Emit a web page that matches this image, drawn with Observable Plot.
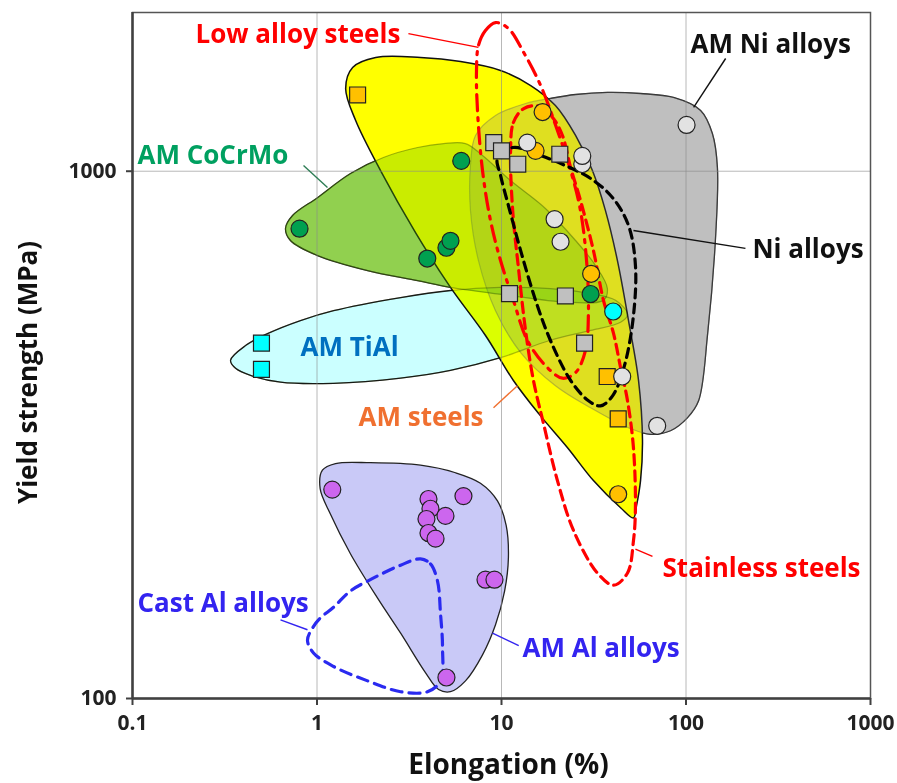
<!DOCTYPE html>
<html><head><meta charset="utf-8">
<script src="https://cdn.jsdelivr.net/npm/d3@7"></script>
<script src="https://cdn.jsdelivr.net/npm/@observablehq/plot@0.6"></script>
<style>
body{margin:0;background:#fff;}
#chart svg{font-family:"Open Sans",Lato,sans-serif;}
#chart svg g[aria-label$="tick label"]{font-weight:700;font-size:21px;fill:#222;}
</style></head><body><div id="chart"></div>
<script>
// ---- axis ticks ----
const xTicks = [0.1, 1, 10, 100, 1000];
const yTicks = [100, 1000];
const xGrid = [1, 10, 100];
const yGrid = [1000];

// ---- envelopes (elongation %, yield strength MPa) ----
const amSteelsX = [1.43,1.56,2.08,3.64,6.0,9.88,14.4,19.6,25.2,31.1,36.6,42.5,48.8,55.3,58.1,56.7,53.9,51.9,44.2,31.5,22.8,15.9,11.6,8.19,5.29,3.42,2.21,1.62];
const amSteelsY = [1435,1573,1643,1643,1614,1553,1454,1332,1169,1003,842,677,521,401,309,259,232,220,230,259,299,347,401,488,602,765,1003,1248];
const amNiX = [6.79,7.23,9.28,13.5,18.4,25.2,37.5,56.7,85.6,120,139,148,145,131,117,102,82.4,64.2,50.0,30.4,19.6,12.7,9.28,7.50,6.79];
const amNiY = [1025,1169,1275,1344,1374,1398,1411,1404,1380,1304,1179,1016,762,492,367,341,322,317,325,356,392,453,544,677,842];
const cocrmoX = [0.675,0.737,1.006,1.52,2.29,3.51,4.85,6.38,7.89,11.2,17.3,25.2,32.3,37.5,35.7,23.7,11.2,5.29,3.51,1.88,1.006,0.718];
const cocrmoY = [779,824,891,990,1062,1109,1128,1128,1071,960,850,739,663,599,569,564,581,602,620,648,692,739];
const tialX = [0.34,0.41,0.539,0.814,1.23,2.84,5.29,9.88,18.4,30.4,41.5,48.2,44.2,30.4,18.4,9.88,5.29,2.84,1.23,0.634,0.436,0.362];
const tialY = [438,467,492,521,544,576,594,602,599,586,569,535,517,499,478,443,419,405,396,398,410,423];
const amAlX = [1.07,1.26,1.95,3.64,5.63,7.69,9.51,10.6,10.9,10.4,9.28,7.89,6.38,5.29,4.56,3.87,2.84,2.13,1.52,1.18,1.04];
const amAlY = [271,279,280,277,268,256,237,213,185,160,138,121,108,103,104,112,133,155,188,224,250];
const castAlX = [3.64,4.12,4.50,4.67,4.79,4.67,3.97,2.84,1.88,1.23,0.957,0.888,0.945,1.04,1.23,1.52,1.88,2.84];
const castAlY = [184,180,167,145,125,108,103,103,108,115,122,129,136,142,149,160,167,179];
const lowAlloyX = [7.50,8.19,9.28,10.9,13.2,16.3,20.1,23.7,26.8,28.9,29.6,28.5,25.2,21.4,17.3,13.8,11.6,9.88,8.72,7.89,7.41,7.32];
const lowAlloyY = [1731,1849,1914,1865,1679,1454,1195,1003,842,677,544,457,415,405,428,478,569,677,806,1003,1304,1553];
const stainlessX = [11.2,11.6,13.2,16.3,19.1,21.4,23.7,26.8,31.5,35.7,40.5,44.2,48.2,51.9,53.2,51.9,48.2,40.5,33.1,24.6,20.1,16.9,14.9,13.5,12.4,11.5];
const stainlessY = [1095,1237,1315,1327,1259,1169,1016,880,707,569,492,424,367,299,230,199,173,164,173,208,259,332,401,499,648,842];
const niAlloysX = [9.51,11.5,16.3,22.2,30.4,40.0,48.8,53.2,51.9,46.4,40.0,34.4,29.6,23.7,18.4,15.3,12.7,10.9,9.88];
const niAlloysY = [1057,1109,1071,1025,969,891,789,663,532,428,375,359,367,401,478,569,707,861,982];

// ---- data points ----
const steelSqX = [1.66,37.4,42.9];
const steelSqY = [1395,408,339];
const steelCircX = [16.7,15.3,30.6,42.9];
const steelCircY = [1295,1093,639,244];
const niCircX = [100.7,13.8,27.4,27.4,19.4,20.9,45.1,69.8];
const niCircY = [1224,1133,1032,1069,811,735,408,329];
const niSqX = [9.08,10.0,12.25,20.7,11.05,22.2,28.2];
const niSqY = [1133,1093,1031,1077,586,580,472];
const cocrCircX = [0.804,3.96,5.03,5.29,6.05,30.4];
const cocrCircY = [778,683,716,738,1046,585];
const tialSqX = [0.5,0.5];
const tialSqY = [472,421];
const tialCircX = [40.3];
const tialCircY = [542];
const alCircX = [1.21,4.02,4.12,3.92,4.97,4.02,4.39,6.22,8.19,9.16,5.03];
const alCircY = [249,239,229,219,222,206,201,242,168,168,109.6];

// ---- labels & leaders ----
const labelText = ["Low alloy steels","AM Ni alloys","AM CoCrMo","Ni alloys","AM TiAl","AM steels","Stainless steels","Cast Al alloys","AM Al alloys"];
const labelX = [0.2196,105.8,0.1064,229,0.814,1.679,74.6,0.1064,13.0];
const labelY = [1754,1679,1034,686,447,329,170,146,120];
const labelColor = ["#ff0000","#111111","#00a060","#111111","#0070c0","#f07030","#ff0000","#3324f0","#3324f0"];
const leaderX1 = [3.13,164,0.845,210,9.05,65.8,0.634,8.94];
const leaderY1 = [1824,1636,1025,714,356,186,141,133];
const leaderX2 = [7.50,110,1.14,51.9,12.2,53.2,0.888,12.4];
const leaderY2 = [1717,1321,931,772,392,192,135,126];
const leaderColor = ["#ff0000","#111111","#2e7d55","#111111","#f07030","#ff0000","#3324f0","#3324f0"];

const pts = (xs, ys) => xs.map((x, i) => ({x, y: ys[i]}));
const labels = labelText.map((t, i) => ({t, x: labelX[i], y: labelY[i], c: labelColor[i]}));
const leaders = leaderX1.map((x1, i) => ({x1, y1: leaderY1[i], x2: leaderX2[i], y2: leaderY2[i], c: leaderColor[i]}));

const closed = "catmull-rom-closed";
const region = (xs, ys, o) => Plot.line(pts(xs, ys), {x: "x", y: "y", curve: closed, ...o});
const font = "'Open Sans', Lato, sans-serif";

const chart = Plot.plot({
  width: 897, height: 783,
  marginLeft: 132, marginRight: 27, marginTop: 12, marginBottom: 85,
  x: {type: "log", domain: [0.1, 1000]},
  y: {type: "log", domain: [100, 2000]},
  style: {fontFamily: font, background: "white", color: "#262626"},
  marks: [
    // base fills
    region(tialX, tialY, {fill: "#edffff", stroke: "#222", strokeWidth: 1.3}),
    region(amAlX, amAlY, {fill: "#c9c9f7", stroke: "#222", strokeWidth: 1.3}),
    region(amNiX, amNiY, {fill: "#d4d4d4", stroke: "#222", strokeWidth: 1.3}),
    region(cocrmoX, cocrmoY, {fill: "#aed772", stroke: "#222", strokeWidth: 1.3}),
    region(amSteelsX, amSteelsY, {fill: "#ffff00", stroke: "#111", strokeWidth: 1.5}),
    // translucent overlays
    region(amNiX, amNiY, {fill: "#808080", fillOpacity: 0.25, stroke: "#555", strokeOpacity: 0.35, strokeWidth: 1.2}),
    region(cocrmoX, cocrmoY, {fill: "#50c000", fillOpacity: 0.3, stroke: "#3c5a00", strokeOpacity: 0.45, strokeWidth: 1.2}),
    region(tialX, tialY, {fill: "#ccffff", fillOpacity: 0.7, mixBlendMode: "multiply", stroke: "#4a5a00", strokeOpacity: 0.4, strokeWidth: 1.2}),
    // grid
    Plot.ruleX(xGrid, {stroke: "#888", strokeOpacity: 0.6, strokeWidth: 1}),
    Plot.ruleY(yGrid, {stroke: "#888", strokeOpacity: 0.6, strokeWidth: 1}),
    // dashed envelopes
    region(castAlX, castAlY, {fill: "none", stroke: "#2a2af0", strokeWidth: 3.2, strokeDasharray: "11,7"}),
    region(lowAlloyX, lowAlloyY, {fill: "none", stroke: "#ff0000", strokeWidth: 3.2, strokeDasharray: "16,7,3,7"}),
    region(stainlessX, stainlessY, {fill: "none", stroke: "#ff0000", strokeWidth: 3.2, strokeDasharray: "10,6"}),
    region(niAlloysX, niAlloysY, {fill: "none", stroke: "#000", strokeWidth: 3.2, strokeDasharray: "9,6"}),
    // markers
    Plot.dot(pts(alCircX, alCircY), {x: "x", y: "y", r: 8.5, fill: "#cc66ee", stroke: "#222", strokeWidth: 1.2}),
    Plot.dot(pts(cocrCircX, cocrCircY), {x: "x", y: "y", r: 8.5, fill: "#00a050", stroke: "#222", strokeWidth: 1.2}),
    Plot.dot(pts(tialSqX, tialSqY), {x: "x", y: "y", r: 9, symbol: "square", fill: "#00ffff", stroke: "#222", strokeWidth: 1.2}),
    Plot.dot(pts(steelSqX, steelSqY), {x: "x", y: "y", r: 9, symbol: "square", fill: "#ffc000", stroke: "#222", strokeWidth: 1.2}),
    Plot.dot(pts(steelCircX, steelCircY), {x: "x", y: "y", r: 8.5, fill: "#ffc000", stroke: "#222", strokeWidth: 1.2}),
    Plot.dot(pts(niSqX, niSqY), {x: "x", y: "y", r: 9, symbol: "square", fill: "#c0c0c0", stroke: "#222", strokeWidth: 1.2}),
    Plot.dot(pts(niCircX, niCircY), {x: "x", y: "y", r: 8.5, fill: "#e2e2e2", stroke: "#222", strokeWidth: 1.2}),
    Plot.dot(pts(tialCircX, tialCircY), {x: "x", y: "y", r: 8.5, fill: "#00ffff", stroke: "#222", strokeWidth: 1.2}),
    // leaders and labels
    Plot.link(leaders, {x1: "x1", y1: "y1", x2: "x2", y2: "y2", stroke: "c", strokeWidth: 1.4}),
    Plot.text(labels, {x: "x", y: "y", text: "t", fill: "c", textAnchor: "start", lineAnchor: "bottom", fontSize: 26, fontWeight: "bold", fontFamily: font}),
    // frame and axes
    Plot.frame({stroke: "#555", strokeWidth: 1.5}),
    Plot.ruleX([0.1], {stroke: "#404040", strokeWidth: 2.5}),
    Plot.ruleY([100], {stroke: "#404040", strokeWidth: 2.5}),
    Plot.axisX(xTicks, {tickFormat: d => String(d), tickSize: 7, tickPadding: 10, fontSize: 21, fontWeight: "bold", fontFamily: font, label: null, stroke: "#404040", strokeWidth: 2}),
    Plot.axisY(yTicks, {tickFormat: d => String(d), tickSize: 6, tickPadding: 10, fontSize: 21, fontWeight: "bold", fontFamily: font, label: null, stroke: "#404040", strokeWidth: 2}),
    Plot.text(["Elongation (%)"], {frameAnchor: "bottom", textAnchor: "middle", lineAnchor: "bottom", text: d => d, dx: 7, dy: 75, fontSize: 28, fontWeight: "bold", fontFamily: font, fill: "#111"}),
    Plot.text(["Yield strength (MPa)"], {frameAnchor: "left", textAnchor: "middle", lineAnchor: "middle", text: d => d, rotate: -90, dx: -104, dy: 17, fontSize: 26, fontWeight: "bold", fontFamily: font, fill: "#111"})
  ]
});
document.getElementById("chart").appendChild(chart);
</script>
</body></html>
